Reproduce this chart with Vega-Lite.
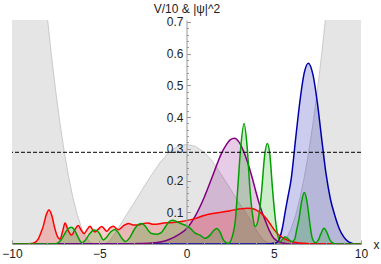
{
"$schema": "https://vega.github.io/schema/vega-lite/v6.json",
"width": 349, "height": 224,
"autosize": {"type": "none"},
"padding": {"left": 12, "top": 20, "right": 20, "bottom": 20},
"background": "white",
"config": {"view": {"stroke": null}, "font": "Liberation Sans", "axis": {"grid": false, "labelOverlap": false, "zindex": 1}},
"resolve": {"axis": {"x": "independent", "y": "independent"}},
"datasets": {
"pot": [
{"x":-10,"y":1.02},{"x":-8.5,"y":1.02},{"x":-8.25,"y":0.874},{"x":-8.0,"y":0.729},{"x":-7.75,"y":0.6},{"x":-7.5,"y":0.484},{"x":-7.25,"y":0.38},{"x":-7.0,"y":0.289},{"x":-6.75,"y":0.21},{"x":-6.5,"y":0.144},{"x":-6.25,"y":0.09},{"x":-6.0,"y":0.049},{"x":-5.75,"y":0.02},{"x":-5.5,"y":0.004},{"x":-5.3,"y":0},{"x":-4.9,"y":0},{"x":-4.6,"y":0.003},{"x":-4.4,"y":0.01},{"x":-4.1,"y":0.033},{"x":-3.8,"y":0.06},{"x":-3.4,"y":0.095},{"x":-3.0,"y":0.13},{"x":-2.5,"y":0.175},{"x":-2.0,"y":0.218},{"x":-1.5,"y":0.258},{"x":-1.0,"y":0.29},{"x":-0.5,"y":0.308},{"x":0,"y":0.314},{"x":0.5,"y":0.308},{"x":1.0,"y":0.29},{"x":1.5,"y":0.26},{"x":2.0,"y":0.218},{"x":2.5,"y":0.175},{"x":3.0,"y":0.13},{"x":3.5,"y":0.09},{"x":3.8,"y":0.062},{"x":4.1,"y":0.035},{"x":4.4,"y":0.012},{"x":4.7,"y":0.003},{"x":5.0,"y":0},{"x":5.3,"y":0},{"x":5.5,"y":0.004},{"x":5.75,"y":0.02},{"x":6.0,"y":0.049},{"x":6.25,"y":0.09},{"x":6.5,"y":0.144},{"x":6.75,"y":0.21},{"x":7.0,"y":0.289},{"x":7.25,"y":0.38},{"x":7.5,"y":0.484},{"x":7.75,"y":0.6},{"x":8.0,"y":0.729},{"x":8.25,"y":0.874},{"x":8.5,"y":1.02},{"x":10,"y":1.02}
],
"psi": [
{"s":"s1","x":-10,"y":0},{"s":"s1","x":4.5,"y":0},{"s":"s1","x":5.0,"y":0.002},{"s":"s1","x":5.2,"y":0.005},{"s":"s1","x":5.35,"y":0.02},{"s":"s1","x":5.5,"y":0.052},{"s":"s1","x":5.65,"y":0.1},{"s":"s1","x":5.8,"y":0.145},{"s":"s1","x":6.0,"y":0.205},{"s":"s1","x":6.25,"y":0.33},{"s":"s1","x":6.5,"y":0.45},{"s":"s1","x":6.75,"y":0.54},{"s":"s1","x":6.98,"y":0.57},{"s":"s1","x":7.25,"y":0.533},{"s":"s1","x":7.5,"y":0.445},{"s":"s1","x":7.75,"y":0.33},{"s":"s1","x":8.0,"y":0.22},{"s":"s1","x":8.25,"y":0.141},{"s":"s1","x":8.5,"y":0.09},{"s":"s1","x":8.75,"y":0.049},{"s":"s1","x":9.0,"y":0.023},{"s":"s1","x":9.25,"y":0.008},{"s":"s1","x":9.5,"y":0.002},{"s":"s1","x":9.75,"y":0},{"s":"s1","x":10,"y":0},
{"s":"s2","x":-10,"y":0},{"s":"s2","x":-4,"y":0},{"s":"s2","x":-3,"y":0.001},{"s":"s2","x":-2,"y":0.003},{"s":"s2","x":-1.5,"y":0.006},{"s":"s2","x":-1,"y":0.014},{"s":"s2","x":-0.5,"y":0.028},{"s":"s2","x":0,"y":0.048},{"s":"s2","x":0.5,"y":0.088},{"s":"s2","x":1,"y":0.145},{"s":"s2","x":1.5,"y":0.215},{"s":"s2","x":2,"y":0.285},{"s":"s2","x":2.25,"y":0.31},{"s":"s2","x":2.5,"y":0.328},{"s":"s2","x":2.75,"y":0.333},{"s":"s2","x":3,"y":0.322},{"s":"s2","x":3.25,"y":0.295},{"s":"s2","x":3.5,"y":0.258},{"s":"s2","x":3.75,"y":0.212},{"s":"s2","x":4,"y":0.16},{"s":"s2","x":4.25,"y":0.113},{"s":"s2","x":4.5,"y":0.076},{"s":"s2","x":4.75,"y":0.042},{"s":"s2","x":5,"y":0.018},{"s":"s2","x":5.25,"y":0.008},{"s":"s2","x":5.5,"y":0.003},{"s":"s2","x":6,"y":0},{"s":"s2","x":10,"y":0},
{"s":"s3","x":-10,"y":0},{"s":"s3","x":-9.25,"y":0},{"s":"s3","x":-8.78,"y":0.002},{"s":"s3","x":-8.5,"y":0.015},{"s":"s3","x":-8.35,"y":0.035},{"s":"s3","x":-8.2,"y":0.058},{"s":"s3","x":-8.05,"y":0.09},{"s":"s3","x":-7.88,"y":0.107},{"s":"s3","x":-7.72,"y":0.09},{"s":"s3","x":-7.55,"y":0.05},{"s":"s3","x":-7.4,"y":0.024},{"s":"s3","x":-7.25,"y":0.015},{"s":"s3","x":-7.1,"y":0.04},{"s":"s3","x":-6.96,"y":0.066},{"s":"s3","x":-6.8,"y":0.045},{"s":"s3","x":-6.58,"y":0.028},{"s":"s3","x":-6.4,"y":0.045},{"s":"s3","x":-6.2,"y":0.058},{"s":"s3","x":-6.05,"y":0.045},{"s":"s3","x":-5.87,"y":0.033},{"s":"s3","x":-5.7,"y":0.045},{"s":"s3","x":-5.53,"y":0.056},{"s":"s3","x":-5.38,"y":0.045},{"s":"s3","x":-5.24,"y":0.038},{"s":"s3","x":-5.05,"y":0.047},{"s":"s3","x":-4.86,"y":0.055},{"s":"s3","x":-4.7,"y":0.047},{"s":"s3","x":-4.57,"y":0.04},{"s":"s3","x":-4.4,"y":0.05},{"s":"s3","x":-4.2,"y":0.056},{"s":"s3","x":-4.05,"y":0.05},{"s":"s3","x":-3.9,"y":0.045},{"s":"s3","x":-3.6,"y":0.058},{"s":"s3","x":-3.33,"y":0.065},{"s":"s3","x":-3.05,"y":0.06},{"s":"s3","x":-2.76,"y":0.06},{"s":"s3","x":-2.45,"y":0.065},{"s":"s3","x":-2.19,"y":0.066},{"s":"s3","x":-1.9,"y":0.062},{"s":"s3","x":-1.61,"y":0.063},{"s":"s3","x":-1.3,"y":0.066},{"s":"s3","x":-1.04,"y":0.067},{"s":"s3","x":-0.75,"y":0.068},{"s":"s3","x":-0.47,"y":0.07},{"s":"s3","x":-0.2,"y":0.072},{"s":"s3","x":0.2,"y":0.076},{"s":"s3","x":0.5,"y":0.08},{"s":"s3","x":1.0,"y":0.09},{"s":"s3","x":1.5,"y":0.096},{"s":"s3","x":2.0,"y":0.1},{"s":"s3","x":2.5,"y":0.105},{"s":"s3","x":3.0,"y":0.11},{"s":"s3","x":3.5,"y":0.113},{"s":"s3","x":3.75,"y":0.112},{"s":"s3","x":4.0,"y":0.107},{"s":"s3","x":4.25,"y":0.098},{"s":"s3","x":4.5,"y":0.085},{"s":"s3","x":4.75,"y":0.067},{"s":"s3","x":5.0,"y":0.047},{"s":"s3","x":5.25,"y":0.031},{"s":"s3","x":5.5,"y":0.02},{"s":"s3","x":5.75,"y":0.013},{"s":"s3","x":6.0,"y":0.008},{"s":"s3","x":6.5,"y":0.003},{"s":"s3","x":7.0,"y":0.001},{"s":"s3","x":7.5,"y":0},{"s":"s3","x":10,"y":0},
{"s":"s4","x":-10,"y":0},{"s":"s4","x":-7.75,"y":0},{"s":"s4","x":-7.44,"y":0.002},{"s":"s4","x":-7.2,"y":0.012},{"s":"s4","x":-7.0,"y":0.03},{"s":"s4","x":-6.8,"y":0.047},{"s":"s4","x":-6.58,"y":0.053},{"s":"s4","x":-6.4,"y":0.042},{"s":"s4","x":-6.2,"y":0.02},{"s":"s4","x":-6.0,"y":0.004},{"s":"s4","x":-5.8,"y":0.012},{"s":"s4","x":-5.55,"y":0.032},{"s":"s4","x":-5.3,"y":0.044},{"s":"s4","x":-5.15,"y":0.043},{"s":"s4","x":-4.95,"y":0.03},{"s":"s4","x":-4.77,"y":0.013},{"s":"s4","x":-4.6,"y":0.02},{"s":"s4","x":-4.35,"y":0.038},{"s":"s4","x":-4.1,"y":0.046},{"s":"s4","x":-3.9,"y":0.035},{"s":"s4","x":-3.7,"y":0.018},{"s":"s4","x":-3.5,"y":0.008},{"s":"s4","x":-3.25,"y":0.02},{"s":"s4","x":-3.0,"y":0.045},{"s":"s4","x":-2.75,"y":0.062},{"s":"s4","x":-2.57,"y":0.065},{"s":"s4","x":-2.35,"y":0.055},{"s":"s4","x":-2.15,"y":0.04},{"s":"s4","x":-2.0,"y":0.033},{"s":"s4","x":-1.7,"y":0.031},{"s":"s4","x":-1.45,"y":0.036},{"s":"s4","x":-1.2,"y":0.055},{"s":"s4","x":-1.0,"y":0.07},{"s":"s4","x":-0.8,"y":0.075},{"s":"s4","x":-0.55,"y":0.07},{"s":"s4","x":-0.3,"y":0.064},{"s":"s4","x":-0.1,"y":0.06},{"s":"s4","x":0.2,"y":0.05},{"s":"s4","x":0.5,"y":0.034},{"s":"s4","x":0.77,"y":0.028},{"s":"s4","x":1.06,"y":0.018},{"s":"s4","x":1.35,"y":0.028},{"s":"s4","x":1.55,"y":0.042},{"s":"s4","x":1.73,"y":0.049},{"s":"s4","x":1.9,"y":0.04},{"s":"s4","x":2.11,"y":0.013},{"s":"s4","x":2.25,"y":0.005},{"s":"s4","x":2.4,"y":0.002},{"s":"s4","x":2.55,"y":0.012},{"s":"s4","x":2.68,"y":0.035},{"s":"s4","x":2.8,"y":0.075},{"s":"s4","x":2.93,"y":0.17},{"s":"s4","x":3.1,"y":0.3},{"s":"s4","x":3.3,"y":0.38},{"s":"s4","x":3.47,"y":0.31},{"s":"s4","x":3.64,"y":0.17},{"s":"s4","x":3.8,"y":0.085},{"s":"s4","x":3.95,"y":0.055},{"s":"s4","x":4.1,"y":0.075},{"s":"s4","x":4.2,"y":0.11},{"s":"s4","x":4.31,"y":0.17},{"s":"s4","x":4.47,"y":0.275},{"s":"s4","x":4.63,"y":0.317},{"s":"s4","x":4.78,"y":0.28},{"s":"s4","x":4.92,"y":0.18},{"s":"s4","x":5.05,"y":0.1},{"s":"s4","x":5.17,"y":0.045},{"s":"s4","x":5.36,"y":0.007},{"s":"s4","x":5.5,"y":0.015},{"s":"s4","x":5.64,"y":0.023},{"s":"s4","x":5.85,"y":0.015},{"s":"s4","x":6.03,"y":0.007},{"s":"s4","x":6.2,"y":0.015},{"s":"s4","x":6.31,"y":0.044},{"s":"s4","x":6.45,"y":0.08},{"s":"s4","x":6.6,"y":0.135},{"s":"s4","x":6.75,"y":0.162},{"s":"s4","x":6.9,"y":0.135},{"s":"s4","x":7.0,"y":0.095},{"s":"s4","x":7.08,"y":0.06},{"s":"s4","x":7.2,"y":0.02},{"s":"s4","x":7.4,"y":0.004},{"s":"s4","x":7.55,"y":0.012},{"s":"s4","x":7.7,"y":0.032},{"s":"s4","x":7.88,"y":0.05},{"s":"s4","x":8.05,"y":0.036},{"s":"s4","x":8.2,"y":0.015},{"s":"s4","x":8.35,"y":0.004},{"s":"s4","x":8.6,"y":0},{"s":"s4","x":10,"y":0}
],
"lvl": [{"y": 0.289}]
},
"layer": [
{
"data": {"name": "pot"},
"mark": {"type": "area", "color": "#e5e5e5", "clip": true, "interpolate": "linear"},
"encoding": {
"x": {"field": "x", "type": "quantitative", "scale": {"domain": [-10, 10], "nice": false, "zero": false},
"axis": {"orient": "bottom", "zindex": 1, "title": "x", "titleAngle": 0, "titleX": 364, "titleY": 0, "titleAlign": "center", "titleBaseline": "middle", "titleFontWeight": "normal", "titleFontSize": 12, "titleColor": "#222",
"values": [-10, -5, 0, 5, 10],
"tickSize": -4,
"tickColor": "#999", "domainColor": "#999", "labelFontSize": 12, "labelColor": "#222", "labelPadding": 8, "labelFlush": false, "labelOverlap": false}},
"y": {"field": "y", "type": "quantitative", "stack": null, "scale": {"domain": [0, 0.706], "nice": false},
"axis": {"orient": "left", "zindex": 1, "title": "V/10  &  |ψ|^2", "titleAngle": 0, "titleX": 0, "titleY": -8, "titleAlign": "center", "titleBaseline": "alphabetic", "titleFontWeight": "normal", "titleFontSize": 12, "titleColor": "#222",
"offset": -174.5,
"values": [0.1, 0.2, 0.3, 0.4, 0.5, 0.6, 0.7],
"format": ".1f",
"tickSize": -4,
"tickColor": "#999", "domainColor": "#999", "labelFontSize": 12, "labelColor": "#222", "labelPadding": 7.5, "labelOverlap": false, "labelFlush": false}}
}
},
{
"data": {"name": "pot"},
"mark": {"type": "line", "color": "#c0c0c0", "strokeWidth": 0.8, "clip": true, "interpolate": "linear"},
"encoding": {
"x": {"field": "x", "type": "quantitative", "axis": {"orient": "bottom", "zindex": 1, "title": null, "labels": false, "domain": false, "tickSize": -2, "tickColor": "#999",
"values": [-9,-8,-7,-6,-4,-3,-2,-1,1,2,3,4,6,7,8,9]}},
"y": {"field": "y", "type": "quantitative", "axis": {"orient": "left", "zindex": 1, "title": null, "labels": false, "domain": false, "tickSize": -2, "tickColor": "#999", "offset": -174.5,
"values": [0.02,0.04,0.06,0.08,0.12,0.14,0.16,0.18,0.22,0.24,0.26,0.28,0.32,0.34,0.36,0.38,0.42,0.44,0.46,0.48,0.52,0.54,0.56,0.58,0.62,0.64,0.66,0.68]}}
}
},
{
"data": {"name": "psi"},
"mark": {"type": "area", "fillOpacity": 0.2, "clip": true, "interpolate": "monotone"},
"encoding": {
"x": {"field": "x", "type": "quantitative", "axis": null},
"y": {"field": "y", "type": "quantitative", "stack": null, "axis": null},
"color": {"field": "s", "type": "nominal", "legend": null, "scale": {"domain": ["s1","s2","s3","s4"], "range": ["#0000aa","#800080","#ff0000","#00a000"]}}
}
},
{
"data": {"name": "psi"},
"mark": {"type": "line", "strokeWidth": 1.5, "clip": true, "interpolate": "monotone"},
"encoding": {
"x": {"field": "x", "type": "quantitative", "axis": null},
"y": {"field": "y", "type": "quantitative", "axis": null},
"color": {"field": "s", "type": "nominal", "legend": null}
}
},
{
"data": {"name": "lvl"},
"mark": {"type": "rule", "color": "black", "strokeWidth": 1, "strokeDash": [4, 2]},
"encoding": {"y": {"field": "y", "type": "quantitative", "axis": null}}
}
]
}
